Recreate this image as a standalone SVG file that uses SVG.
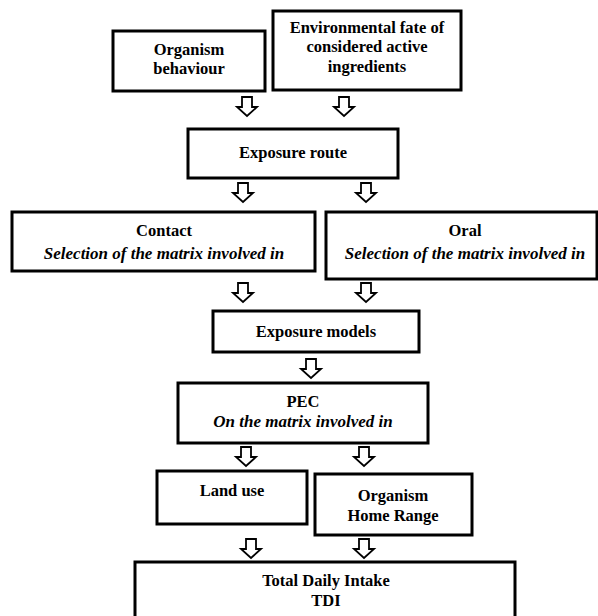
<svg xmlns="http://www.w3.org/2000/svg" xmlns:xlink="http://www.w3.org/1999/xlink" width="598" height="616" viewBox="0 0 598 616">
<style>
.box{fill:#fff;stroke:#000;stroke-width:3}
.t{font-family:"Liberation Serif","Times New Roman",serif;font-weight:bold;font-size:16.5px;fill:#000;text-anchor:middle}
.i{font-style:italic;font-size:17px}
.arr{fill:#fff;stroke:#000;stroke-width:1.8;stroke-linejoin:miter}
</style>
<defs>
<path id="da" d="M-5,0 H5 V10 H10 L0,19 L-10,10 H-5 Z"/>
</defs>
<rect width="598" height="616" fill="#fff"/>
<g id="organism-behaviour">
<rect class="box" x="113" y="31" width="152" height="60"/>
<text class="t" x="189" y="55">Organism</text>
<text class="t" x="189" y="74">behaviour</text>
</g>
<g id="environmental-fate">
<rect class="box" x="273" y="11" width="188" height="79"/>
<text class="t" x="367" y="33">Environmental fate of</text>
<text class="t" x="367" y="52">considered active</text>
<text class="t" x="367" y="72">ingredients</text>
</g>
<g id="exposure-route">
<rect class="box" x="188" y="129" width="210" height="49"/>
<text class="t" x="293" y="158">Exposure route</text>
</g>
<g id="contact">
<rect class="box" x="12" y="212" width="303" height="59"/>
<text class="t" x="164" y="236">Contact</text>
<text class="t i" x="164" y="259">Selection of the matrix involved in</text>
</g>
<g id="oral">
<rect class="box" x="326" y="212" width="271" height="67"/>
<text class="t" x="465" y="236">Oral</text>
<text class="t i" x="465" y="259">Selection of the matrix involved in</text>
</g>
<g id="exposure-models">
<rect class="box" x="213" y="311" width="206" height="41"/>
<text class="t" x="316" y="337">Exposure models</text>
</g>
<g id="pec">
<rect class="box" x="178" y="383" width="250" height="60"/>
<text class="t" x="303" y="407">PEC</text>
<text class="t i" x="303" y="427">On the matrix involved in</text>
</g>
<g id="land-use">
<rect class="box" x="157" y="471" width="150" height="53"/>
<text class="t" x="232" y="496">Land use</text>
</g>
<g id="organism-home-range">
<rect class="box" x="315" y="474" width="157" height="61"/>
<text class="t" x="393" y="501">Organism</text>
<text class="t" x="393" y="521">Home Range</text>
</g>
<g id="tdi">
<rect class="box" x="135" y="562" width="380" height="70"/>
<text class="t" x="326" y="586">Total Daily Intake</text>
<text class="t" x="326" y="606">TDI</text>
</g>
<g id="connectors">
<use xlink:href="#da" class="arr" x="247" y="97"/>
<use xlink:href="#da" class="arr" x="344" y="97"/>
<use xlink:href="#da" class="arr" x="243" y="183"/>
<use xlink:href="#da" class="arr" x="366" y="183"/>
<use xlink:href="#da" class="arr" x="243" y="283"/>
<use xlink:href="#da" class="arr" x="366" y="283"/>
<use xlink:href="#da" class="arr" x="311" y="359"/>
<use xlink:href="#da" class="arr" x="246" y="447"/>
<use xlink:href="#da" class="arr" x="364" y="447"/>
<use xlink:href="#da" class="arr" x="251" y="539"/>
<use xlink:href="#da" class="arr" x="364" y="539"/>
</g>
</svg>
